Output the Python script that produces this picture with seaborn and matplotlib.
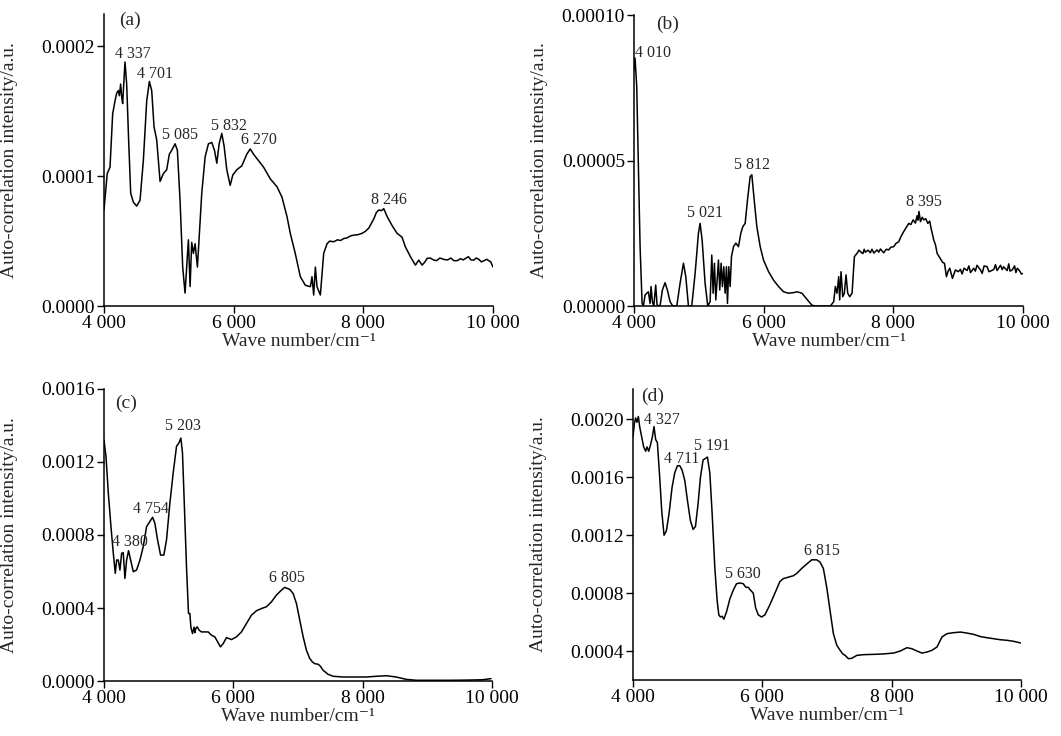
import matplotlib
matplotlib.use("Agg")
import matplotlib.pyplot as plt
import matplotlib.ticker as mticker
import numpy as np
import seaborn as sns

# ---- panel (a) : intensity in 1e-4 a.u.
A_WN = [4000, 4050, 4093, 4134, 4170, 4196, 4221, 4237, 4257, 4273, 4288, 4324, 4350, 4380,
        4412, 4453, 4504, 4556, 4607, 4659, 4700, 4736, 4772, 4813, 4865, 4916, 4967, 5008,
        5045, 5096, 5132, 5173, 5214, 5250, 5276, 5302, 5328, 5353, 5379, 5405, 5441, 5472,
        5508, 5560, 5611, 5663, 5704, 5740, 5776, 5817, 5853, 5894, 5946, 5987, 6049, 6126,
        6203, 6255, 6306, 6384, 6461, 6564, 6667, 6744, 6822, 6873, 6950, 7028, 7105, 7183,
        7208, 7234, 7260, 7285, 7337, 7388, 7440, 7480, 7543, 7600, 7650, 7697, 7750, 7800,
        7851, 7920, 7980, 8030, 8083, 8160, 8200, 8238, 8280, 8315, 8366, 8443, 8520, 8560,
        8597, 8648, 8726, 8803, 8854, 8906, 8950, 8983, 9030, 9087, 9130, 9180, 9241, 9300,
        9350, 9396, 9450, 9500, 9540, 9576, 9620, 9660, 9705, 9740, 9780, 9820, 9860, 9900,
        9963, 10000]
A_INT = [0.74, 1.02, 1.07, 1.48, 1.58, 1.64, 1.66, 1.62, 1.71, 1.61, 1.56, 1.88, 1.71, 1.28,
         0.87, 0.80, 0.77, 0.815, 1.12, 1.58, 1.73, 1.66, 1.38, 1.28, 0.96, 1.02, 1.05, 1.17,
         1.20, 1.25, 1.20, 0.815, 0.30, 0.10, 0.30, 0.51, 0.15, 0.49, 0.405, 0.48, 0.30, 0.56,
         0.87, 1.15, 1.25, 1.26, 1.20, 1.10, 1.25, 1.33, 1.23, 1.05, 0.93, 1.01, 1.05, 1.08,
         1.17, 1.21, 1.17, 1.12, 1.07, 0.98, 0.92, 0.84, 0.69, 0.56, 0.405, 0.226, 0.16, 0.149,
         0.226, 0.085, 0.30, 0.149, 0.085, 0.405, 0.48, 0.50, 0.495, 0.51, 0.505, 0.52, 0.525, 0.54,
         0.546, 0.55, 0.56, 0.575, 0.60, 0.67, 0.72, 0.74, 0.735, 0.75, 0.69, 0.62, 0.56, 0.545,
         0.53, 0.456, 0.38, 0.315, 0.354, 0.315, 0.34, 0.367, 0.37, 0.354, 0.35, 0.37, 0.359, 0.355,
         0.37, 0.349, 0.35, 0.365, 0.355, 0.367, 0.38, 0.355, 0.354, 0.37, 0.36, 0.34, 0.349, 0.36,
         0.341, 0.30]

# ---- panel (b) : intensity in 1e-5 a.u.
B_WN = [4000, 4015, 4041, 4067, 4093, 4124, 4144, 4170, 4196, 4221, 4247, 4262, 4283, 4305,
        4334, 4355, 4401, 4437, 4478, 4514, 4556, 4597, 4659, 4710, 4762, 4798, 4839, 4890,
        4942, 4993, 5019, 5050, 5096, 5137, 5173, 5199, 5220, 5240, 5261, 5281, 5302, 5322,
        5343, 5363, 5384, 5405, 5425, 5441, 5461, 5482, 5503, 5534, 5570, 5611, 5647, 5678,
        5714, 5750, 5791, 5817, 5853, 5894, 5946, 5997, 6075, 6152, 6229, 6306, 6384, 6461,
        6513, 6590, 6667, 6744, 6796, 7028, 7080, 7105, 7131, 7157, 7172, 7193, 7219, 7244,
        7270, 7296, 7327, 7363, 7399, 7440, 7470, 7491, 7530, 7550, 7568, 7610, 7645, 7670,
        7700, 7749, 7775, 7800, 7851, 7890, 7929, 7960, 8006, 8040, 8083, 8120, 8160, 8200,
        8238, 8270, 8305, 8340, 8366, 8380, 8395, 8418, 8445, 8469, 8500, 8531, 8560, 8582,
        8623, 8650, 8675, 8737, 8760, 8788, 8819, 8845, 8870, 8911, 8957, 9000, 9035, 9060,
        9090, 9138, 9165, 9190, 9241, 9265, 9290, 9344, 9370, 9400, 9447, 9475, 9500, 9550,
        9575, 9600, 9653, 9680, 9700, 9756, 9780, 9800, 9834, 9870, 9890, 9912, 9950, 9974,
        10000]
B_INT = [8.12, 8.52, 7.55, 4.79, 2.04, 0.09, 0.0, 0.38, 0.44, 0.49, 0.09, 0.67, 0.15, 0.0,
         0.72, 0.03, 0.0, 0.55, 0.80, 0.55, 0.15, 0.0, 0.0, 0.78, 1.47, 1.01, 0.0, 0.0,
         1.12, 2.50, 2.84, 2.27, 0.78, 0.0, 0.15, 1.75, 0.44, 1.47, 0.21, 0.89, 1.58, 0.55,
         1.47, 0.67, 1.35, 0.44, 1.35, 0.09, 1.35, 0.67, 1.70, 2.04, 2.16, 2.04, 2.50, 2.73,
         2.84, 3.65, 4.45, 4.51, 3.65, 2.73, 2.04, 1.58, 1.18, 0.89, 0.67, 0.49, 0.44, 0.46,
         0.49, 0.44, 0.23, 0.03, 0.0, 0.0, 0.15, 0.67, 0.44, 1.01, 0.21, 1.18, 0.32, 0.44,
         1.07, 0.44, 0.32, 0.44, 1.70, 1.81, 1.92, 1.87, 1.80, 1.95, 1.85, 1.92, 1.83, 1.95,
         1.82, 1.93, 1.85, 1.96, 1.83, 1.95, 1.93, 2.02, 2.04, 2.15, 2.21, 2.40, 2.56, 2.70,
         2.84, 2.80, 2.96, 2.85, 3.10, 2.95, 3.25, 2.90, 3.05, 2.96, 3.00, 2.84, 2.92, 2.67,
         2.27, 2.10, 1.81, 1.58, 1.50, 1.47, 1.01, 1.20, 1.30, 0.95, 1.24, 1.18, 1.26, 1.10,
         1.30, 1.22, 1.38, 1.15, 1.30, 1.20, 1.40, 1.24, 1.12, 1.38, 1.35, 1.18, 1.20, 1.26,
         1.42, 1.22, 1.40, 1.25, 1.35, 1.22, 1.45, 1.20, 1.24, 1.38, 1.15, 1.30, 1.20, 1.10,
         1.12]

# ---- panel (c) : intensity in 1e-4 a.u.
C_WN = [4000, 4031, 4067, 4108, 4144, 4175, 4196, 4221, 4247, 4273, 4298, 4324, 4350, 4380,
        4412, 4453, 4504, 4556, 4607, 4659, 4710, 4752, 4787, 4829, 4875, 4926, 4967, 5019,
        5070, 5122, 5158, 5189, 5214, 5240, 5276, 5307, 5328, 5343, 5369, 5394, 5405, 5420,
        5441, 5472, 5508, 5560, 5611, 5663, 5714, 5766, 5802, 5843, 5894, 5971, 6049, 6126,
        6203, 6281, 6358, 6435, 6513, 6590, 6667, 6744, 6796, 6873, 6924, 6976, 7028, 7080,
        7131, 7183, 7224, 7260, 7311, 7347, 7388, 7465, 7543, 7697, 7903, 8057, 8212, 8366,
        8520, 8675, 8830, 9087, 9344, 9602, 9856, 9985]
C_INT = [13.2, 12.3, 10.3, 8.46, 7.0, 5.9, 6.63, 6.63, 6.08, 7.0, 7.03, 5.62, 6.63, 7.14,
         6.63, 5.99, 6.08, 6.63, 7.36, 8.46, 8.74, 8.97, 8.64, 7.73, 6.90, 6.90, 7.73, 9.74,
         11.39, 12.86, 13.04, 13.31, 12.49, 9.93, 6.26, 3.70, 3.70, 2.97, 2.60, 2.95, 2.65, 2.88,
         2.97, 2.78, 2.69, 2.69, 2.69, 2.51, 2.42, 2.09, 1.87, 2.05, 2.38, 2.27, 2.42, 2.69,
         3.15, 3.61, 3.85, 3.97, 4.07, 4.34, 4.71, 4.98, 5.13, 5.02, 4.80, 4.25, 3.33, 2.42,
         1.68, 1.23, 1.04, 0.95, 0.92, 0.81, 0.59, 0.37, 0.26, 0.22, 0.22, 0.22, 0.26, 0.29,
         0.22, 0.09, 0.04, 0.04, 0.04, 0.05, 0.07, 0.13]

# ---- panel (d) : intensity in 1e-4 a.u.
D_WN = [4000, 4021, 4041, 4062, 4083, 4103, 4134, 4165, 4196, 4217, 4243, 4269, 4300, 4325,
        4351, 4377, 4413, 4444, 4480, 4516, 4558, 4604, 4645, 4687, 4723, 4759, 4800, 4842,
        4888, 4930, 4966, 5007, 5043, 5084, 5120, 5151, 5188, 5224, 5265, 5301, 5327, 5353,
        5379, 5405, 5446, 5498, 5550, 5601, 5653, 5705, 5746, 5782, 5818, 5860, 5896, 5937,
        5988, 6040, 6117, 6195, 6272, 6324, 6401, 6479, 6530, 6608, 6685, 6763, 6840, 6892,
        6944, 6996, 7047, 7099, 7151, 7203, 7244, 7280, 7332, 7384, 7461, 7565, 7720, 7874,
        8029, 8133, 8236, 8313, 8391, 8468, 8546, 8623, 8701, 8778, 8855, 8959, 9062, 9165,
        9269, 9372, 9475, 9579, 9682, 9785, 9888, 10000]
D_INT = [18.8, 19.7, 20.1, 19.8, 20.2, 19.5, 18.8, 18.1, 17.8, 18.1, 17.8, 18.2, 18.8, 19.5,
         18.6, 18.4, 16.0, 13.7, 12.0, 12.3, 13.5, 15.3, 16.3, 16.8, 16.8, 16.5, 15.8, 14.4,
         13.0, 12.4, 12.6, 14.2, 16.0, 17.2, 17.3, 17.4, 16.3, 13.5, 9.8, 7.5, 6.5, 6.35,
         6.4, 6.2, 6.7, 7.6, 8.2, 8.65, 8.7, 8.65, 8.4, 8.4, 8.2, 8.0, 7.0, 6.5,
         6.35, 6.5, 7.2, 8.0, 8.8, 9.0, 9.1, 9.2, 9.35, 9.7, 10.0, 10.3, 10.3, 10.15,
         9.7, 8.4, 6.8, 5.2, 4.4, 4.05, 3.8, 3.7, 3.47, 3.5, 3.7, 3.75, 3.77, 3.8,
         3.86, 4.0, 4.23, 4.16, 4.0, 3.86, 3.93, 4.05, 4.28, 4.97, 5.2, 5.27, 5.31, 5.24,
         5.15, 5.0, 4.92, 4.85, 4.78, 4.74, 4.67, 4.55]

PANELS = [
    dict(tag="(a)", wn=A_WN, val=np.array(A_INT) * 1e-4, ylim=(0, 2.25e-4),
         yticks=[0, 1e-4, 2e-4], fmt="%.4f", tagpos=(4400, 2.2e-4),
         peaks=[("4 337", 4443, 1.94e-4), ("4 701", 4787, 1.785e-4), ("5 085", 5173, 1.32e-4),
                ("5 832", 5920, 1.385e-4), ("6 270", 6384, 1.28e-4), ("8 246", 8390, 0.82e-4)]),
    dict(tag="(b)", wn=B_WN, val=np.array(B_INT) * 1e-5, ylim=(0, 1e-4),
         yticks=[0, 5e-5, 1e-4], fmt="%.5f", tagpos=(4515, 9.67e-5),
         peaks=[("4 010", 4298, 8.69e-5), ("5 021", 5096, 3.19e-5), ("5 812", 5817, 4.85e-5),
                ("8 395", 8479, 3.59e-5)]),
    dict(tag="(c)", wn=C_WN, val=np.array(C_INT) * 1e-4, ylim=(0, 1.6e-3),
         yticks=[0, 4e-4, 8e-4, 12e-4, 16e-4], fmt="%.4f", tagpos=(4340, 15.24e-4),
         peaks=[("5 203", 5214, 13.96e-4), ("4 754", 4726, 9.43e-4), ("4 380", 4401, 7.6e-4),
                ("6 805", 6830, 5.62e-4)]),
    dict(tag="(d)", wn=D_WN, val=np.array(D_INT) * 1e-4, ylim=(2e-4, 2.21e-3),
         yticks=[4e-4, 8e-4, 12e-4, 16e-4, 20e-4], fmt="%.4f", tagpos=(4300, 21.56e-4),
         peaks=[("4 327", 4449, 19.94e-4), ("5 191", 5229, 18.15e-4), ("4 711", 4759, 17.23e-4),
                ("5 630", 5693, 9.35e-4), ("6 815", 6928, 10.9e-4)]),
]

# axes rectangles [left, bottom, width, height] in figure fraction
RECTS = [
    [0.098, 0.5842, 0.3667, 0.3968],
    [0.5976, 0.5842, 0.3666, 0.3954],
    [0.098, 0.0747, 0.3657, 0.3968],
    [0.5966, 0.0761, 0.3657, 0.3954],
]

sns.set_style("ticks")
plt.rcParams["font.family"] = ["Liberation Serif", "DejaVu Serif"]

fig = plt.figure(figsize=(10.61, 7.36), dpi=100)

for p, rect in zip(PANELS, RECTS):
    ax = fig.add_axes(rect)
    sns.lineplot(x=p["wn"], y=p["val"], ax=ax, color="black", linewidth=1.1,
                 sort=False, estimator=None)
    ax.set_xlim(4000, 10000)
    ax.set_ylim(*p["ylim"])
    ax.set_xticks([4000, 6000, 8000, 10000])
    ax.set_yticks(p["yticks"])
    ax.xaxis.set_major_formatter(mticker.FuncFormatter(lambda v, _: f"{int(v):,}".replace(",", " ")))
    ax.yaxis.set_major_formatter(mticker.FormatStrFormatter(p["fmt"]))
    ax.tick_params(axis="both", direction="out", length=5, width=1, labelsize=14, pad=1.5,
                   colors="black")
    for side in ["top", "right"]:
        ax.spines[side].set_visible(False)
    for side in ["left", "bottom"]:
        ax.spines[side].set_linewidth(1.1)
        ax.spines[side].set_color("black")
    ax.set_xlabel("Wave number/cm\u207b\u00b9", fontsize=14, labelpad=1)
    ax.set_ylabel("Auto-correlation intensity/a.u.", fontsize=14)
    ax.yaxis.set_label_coords(-0.222, 0.5)
    ax.text(*p["tagpos"], p["tag"], fontsize=14, ha="center", va="center")
    for label, x, y in p["peaks"]:
        ax.text(x, y, label, fontsize=11.5, ha="center", va="center")

fig.savefig("out.png", dpi=100)
